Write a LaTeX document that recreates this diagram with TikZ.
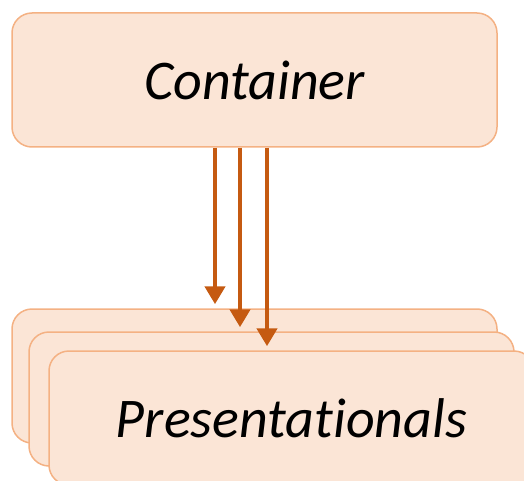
\documentclass[tikz,border=0pt]{standalone}
\usepackage{fontspec}
\setmainfont[RawFeature={-liga;-clig;-dlig}]{Carlito}
\usepackage{tikz}
\usetikzlibrary{positioning, arrows.meta}
\definecolor{boxfill}{HTML}{FBE5D6}
\definecolor{boxline}{HTML}{F4B183}
\definecolor{arrowcol}{HTML}{C55A11}

\begin{document}
\begin{tikzpicture}[node distance=2cm, on grid]
                \tikzset{box/.style={draw=boxline, fill=boxfill, line width=1.5pt, rounded corners=20pt,
                    minimum width=485pt, minimum height=134pt, inner sep=0pt,
                    font=\fontsize{56}{60}\selectfont\itshape}}
                \tikzset{flow/.style={draw=arrowcol, line width=4.5pt, -{Triangle[width=20pt, length=18pt]}, shorten >=4pt}}

                \useasboundingbox (0,0) rectangle (524pt,-481pt);
                \clip (0,0) rectangle (524pt,-481pt);

                % CONTAINER
                \node[box] (cont) at (254.5pt,-80pt) {Container};

                % PRESENTATIONALS
                \node[box] (p1) [below=296pt of cont] {};
                \node[box] (p2) [below right=23pt and 17pt of p1] {};
                \node[box] (p3) [below right=19pt and 20pt of p2] {Presentationals};

                % ARROWS
                \draw[flow] ([xshift=-39.5pt]cont.south) -- ([xshift=-39.5pt]cont.south |- p1.north);
                \draw[flow] ([xshift=-14.5pt]cont.south) -- ([xshift=-14.5pt]cont.south |- p2.north);
                \draw[flow] ([xshift=12.5pt]cont.south) -- ([xshift=12.5pt]cont.south |- p3.north);

            \end{tikzpicture}
\end{document}
